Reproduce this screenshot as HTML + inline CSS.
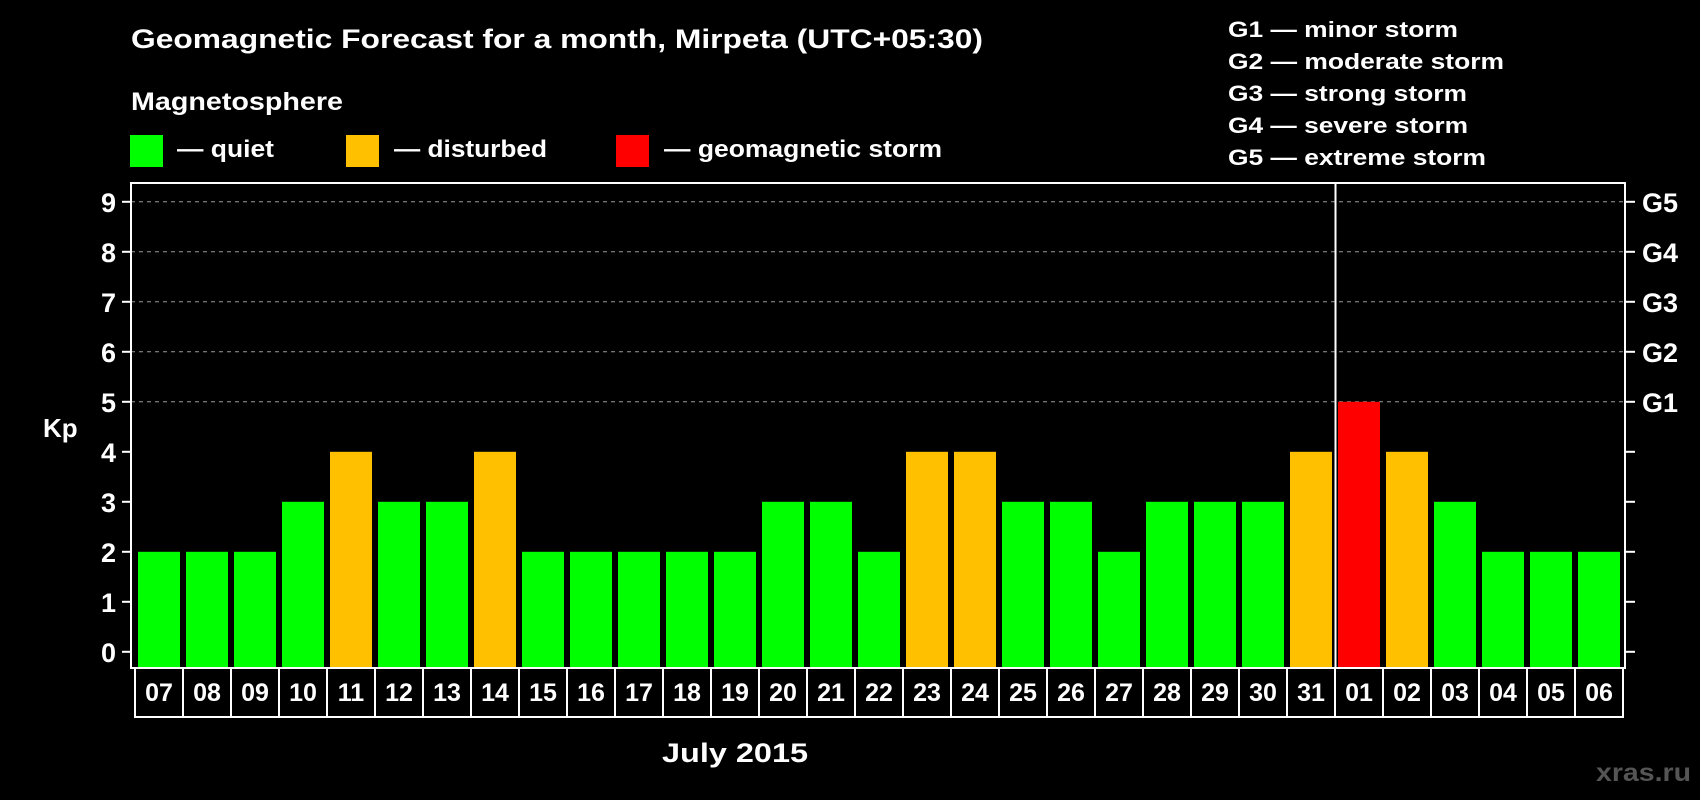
<!DOCTYPE html>
<html><head><meta charset="utf-8"><style>
html,body{margin:0;padding:0;background:#000;}
svg{display:block;font-family:"Liberation Sans",Arial,sans-serif;font-weight:bold;}
</style></head><body>
<svg id="chart" width="1700" height="800" viewBox="0 0 1700 800">
<rect x="0" y="0" width="1700" height="800" fill="#000"/>
<text x="131" y="48" font-size="27" fill="#fff" textLength="852" lengthAdjust="spacingAndGlyphs">Geomagnetic Forecast for a month, Mirpeta (UTC+05:30)</text>
<text x="131" y="110" font-size="25" fill="#fff" textLength="212" lengthAdjust="spacingAndGlyphs">Magnetosphere</text>
<rect x="130" y="135" width="33" height="32" fill="#00ff00"/>
<text x="177" y="157" font-size="24" fill="#fff" textLength="97" lengthAdjust="spacingAndGlyphs">— quiet</text>
<rect x="346" y="135" width="33" height="32" fill="#ffc000"/>
<text x="394" y="157" font-size="24" fill="#fff" textLength="153" lengthAdjust="spacingAndGlyphs">— disturbed</text>
<rect x="616" y="135" width="33" height="32" fill="#ff0000"/>
<text x="664" y="157" font-size="24" fill="#fff" textLength="278" lengthAdjust="spacingAndGlyphs">— geomagnetic storm</text>
<g font-size="22" fill="#fff">
<text x="1228" y="37" textLength="230" lengthAdjust="spacingAndGlyphs">G1 — minor storm</text>
<text x="1228" y="69" textLength="276" lengthAdjust="spacingAndGlyphs">G2 — moderate storm</text>
<text x="1228" y="101" textLength="239" lengthAdjust="spacingAndGlyphs">G3 — strong storm</text>
<text x="1228" y="133" textLength="240" lengthAdjust="spacingAndGlyphs">G4 — severe storm</text>
<text x="1228" y="165" textLength="258" lengthAdjust="spacingAndGlyphs">G5 — extreme storm</text>
</g>
<text x="43" y="437" font-size="26" fill="#fff">Kp</text>
<text x="662" y="762" font-size="27" fill="#fff" textLength="146" lengthAdjust="spacingAndGlyphs">July 2015</text>
<text x="1596" y="781" font-size="25" fill="#555" textLength="95" lengthAdjust="spacingAndGlyphs">xras.ru</text>
<g id="grid"></g>
<g id="bars"></g>
<g id="axes"></g>
</svg>
<script>
const days = ["07","08","09","10","11","12","13","14","15","16","17","18","19","20","21","22","23","24","25","26","27","28","29","30","31","01","02","03","04","05","06"];
const kp = [2,2,2,3,4,3,3,4,2,2,2,2,2,3,3,2,4,4,3,3,2,3,3,3,4,5,4,3,2,2,2];
const yTicks = [0,1,2,3,4,5,6,7,8,9];
const gLabels = ["G1","G2","G3","G4","G5"];
const gLevels = [5,6,7,8,9];
const monthBreakIndex = 25;

const NS = "http://www.w3.org/2000/svg";
const plotL = 131, plotR = 1625, plotT = 183, plotB = 668;
const y0 = 651.8, unit = 50;
const x0 = 135, pitch = 48;
function yScale(v){ return y0 - v*unit; }
function xScale(i){ return x0 + i*pitch; }
function mk(tag, attrs, parent){
  const e = document.createElementNS(NS, tag);
  for (const k in attrs) e.setAttribute(k, attrs[k]);
  parent.appendChild(e);
  return e;
}
function color(v){ return v >= 5 ? "#ff0000" : (v >= 4 ? "#ffc000" : "#00ff00"); }

const grid = document.getElementById("grid");
const bars = document.getElementById("bars");
const axes = document.getElementById("axes");

gLevels.forEach((lv, i) => {
  const l = mk("line", {x1: plotL, x2: plotR, y1: yScale(lv), y2: yScale(lv), stroke: "#9a9a9a", "stroke-width": 1, "stroke-dasharray": "4 4"}, grid);
  
  
  const t = mk("text", {x: 1642, y: yScale(lv) + 10, "font-size": 27, fill: "#fff"}, axes);
  t.textContent = gLabels[i];
  
  
});

kp.forEach((v, i) => {
  const r = mk("rect", {x: xScale(i) + 3, y: yScale(v), width: 42, height: plotB - yScale(v), fill: color(v)}, bars);
  
  
});

yTicks.forEach(v => {
  const t = mk("text", {x: 116, y: yScale(v) + 10, "font-size": 27, fill: "#fff", "text-anchor": "end"}, axes);
  t.textContent = v;
  
  
  const a = mk("line", {x1: 122, x2: plotL, y1: yScale(v), y2: yScale(v), stroke: "#fff", "stroke-width": 2}, axes);
  
  
  const b = mk("line", {x1: plotR, x2: plotR + 10, y1: yScale(v), y2: yScale(v), stroke: "#fff", "stroke-width": 2}, axes);
  
  
});

const frame = mk("rect", {x: plotL, y: plotT, width: plotR - plotL, height: plotB - plotT, fill: "none", stroke: "#fff", "stroke-width": 2}, axes);



const divX = xScale(monthBreakIndex) + 0.5;
const div = mk("line", {x1: divX, x2: divX, y1: plotT, y2: plotB, stroke: "#fff", "stroke-width": 2}, axes);



days.forEach((d, i) => {
  const r = mk("rect", {x: xScale(i), y: plotB, width: pitch, height: 49, fill: "#000", stroke: "#fff", "stroke-width": 2}, axes);
  
  
  const t = mk("text", {x: xScale(i) + pitch/2, y: plotB + 33, "font-size": 25, fill: "#fff", "text-anchor": "middle"}, axes);
  t.textContent = d;
  
  
});
</script>
</body></html>
